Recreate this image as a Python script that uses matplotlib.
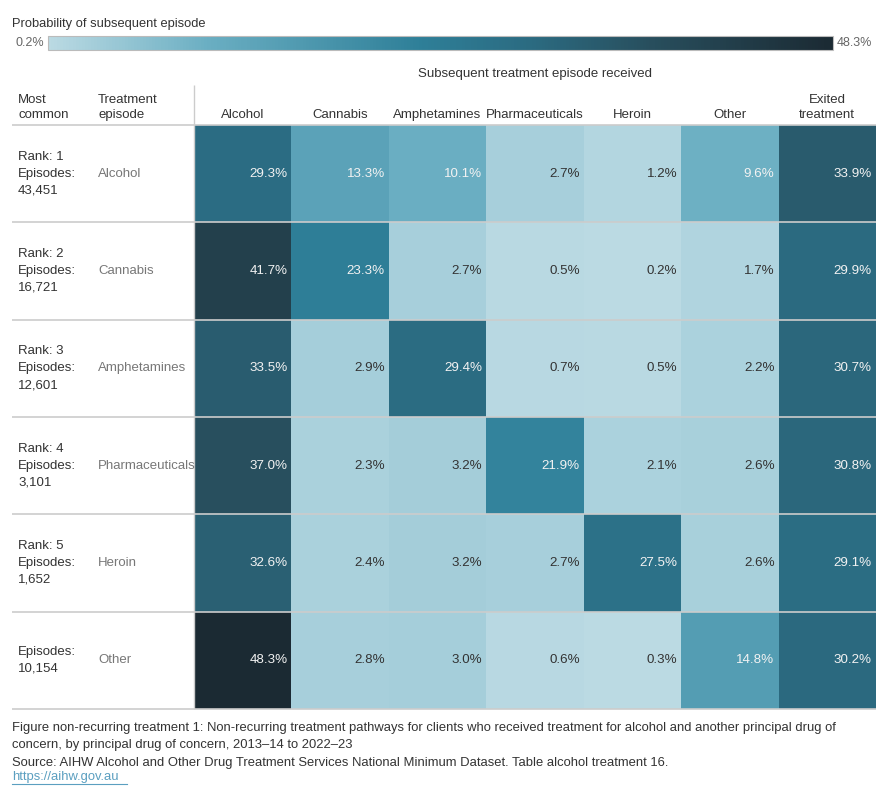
import numpy as np
import matplotlib
matplotlib.use("Agg")
from matplotlib import pyplot as plt
from matplotlib.colors import LinearSegmentedColormap, Normalize
from matplotlib.colorbar import ColorbarBase
from matplotlib.lines import Line2D

plt.rcParams['font.family'] = ['Liberation Sans', 'DejaVu Sans']

# data
episodes = ['Alcohol', 'Cannabis', 'Amphetamines', 'Pharmaceuticals', 'Heroin', 'Other']
rank_labels = ['Rank: 1\nEpisodes:\n43,451',
               'Rank: 2\nEpisodes:\n16,721',
               'Rank: 3\nEpisodes:\n12,601',
               'Rank: 4\nEpisodes:\n3,101',
               'Rank: 5\nEpisodes:\n1,652',
               'Episodes:\n10,154']
received = ['Alcohol', 'Cannabis', 'Amphetamines', 'Pharmaceuticals', 'Heroin', 'Other', 'Exited\ntreatment']
alcohol_row = [29.3, 13.3, 10.1, 2.7, 1.2, 9.6, 33.9]
cannabis_row = [41.7, 23.3, 2.7, 0.5, 0.2, 1.7, 29.9]
amphet_row = [33.5, 2.9, 29.4, 0.7, 0.5, 2.2, 30.7]
pharma_row = [37.0, 2.3, 3.2, 21.9, 2.1, 2.6, 30.8]
heroin_row = [32.6, 2.4, 3.2, 2.7, 27.5, 2.6, 29.1]
other_row = [48.3, 2.8, 3.0, 0.6, 0.3, 14.8, 30.2]
values = np.array([alcohol_row, cannabis_row, amphet_row, pharma_row, heroin_row, other_row])
vmin, vmax = 0.2, 48.3

W, H = 890, 800
stops = [(0.2, '#bbdae3'), (10, '#6aaec2'), (23, '#2e7f98'), (30, '#2b6a80'),
         (37, '#284f5e'), (48.3, '#1b2a33')]
cmap = LinearSegmentedColormap.from_list(
    'teal', [((v - vmin) / (vmax - vmin), c) for v, c in stops])
norm = Normalize(vmin, vmax)

fig = plt.figure(figsize=(W / 100, H / 100), dpi=100)

def px(x0, y0, x1, y1):
    return [x0 / W, 1 - y1 / H, (x1 - x0) / W, (y1 - y0) / H]

# heatmap
ax = fig.add_axes(px(194, 125, 876, 709))
nr, nc = values.shape
ax.pcolormesh(np.arange(nc + 1), np.arange(nr + 1), values, cmap=cmap, norm=norm)
ax.set_xlim(0, nc)
ax.set_ylim(nr, 0)
ax.axis('off')

colw = (876 - 194) / nc
def dx(p):
    return (p - 194) / colw

for i in range(nr):
    for j in range(nc):
        v = values[i, j]
        col = '#f2f2f2' if v > 5 else '#333333'
        ax.text(j + 1 - 4 / colw, i + 0.5, '%.1f%%' % v, ha='right', va='center',
                fontsize=9.6, color=col)
    ax.text(dx(18), i + 0.5, rank_labels[i], ha='left', va='center', fontsize=9.5,
            color='#333333', linespacing=1.55)
    ax.text(dx(98), i + 0.5, episodes[i], ha='left', va='center', fontsize=9.5,
            color='#777777')

ax.hlines(np.arange(nr + 1), dx(12), nc, color='#cccccc', lw=1.2, clip_on=False)
ax.vlines(0, -40 / 97.3, nr, color='#cccccc', lw=1, clip_on=False)

for j, name in enumerate(received):
    ax.text(j + 0.5, -0.04, name, ha='center', va='bottom', fontsize=9.5,
            color='#333333', linespacing=1.35)
ax.text(dx(18), -0.04, 'Most\ncommon', ha='left', va='bottom', fontsize=9.5,
        color='#333333', linespacing=1.35)
ax.text(dx(98), -0.04, 'Treatment\nepisode', ha='left', va='bottom', fontsize=9.5,
        color='#333333', linespacing=1.35)
ax.text(nc / 2, -0.52, 'Subsequent treatment episode received', ha='center',
        va='center', fontsize=9.5, color='#333333')

# legend
fig.text(12 / W, 1 - 24 / H, 'Probability of subsequent episode', ha='left',
         va='center', fontsize=9.3, color='#333333')
cax = fig.add_axes(px(48, 36, 833, 50))
cb = ColorbarBase(cax, cmap=cmap, norm=norm, orientation='horizontal')
cb.set_ticks([])
cb.outline.set_edgecolor('#bbbbbb')
cb.outline.set_linewidth(0.8)
fig.text(44 / W, 1 - 43 / H, '%.1f%%' % vmin, ha='right', va='center',
         fontsize=9, color='#666666')
fig.text(837 / W, 1 - 43 / H, '%.1f%%' % vmax, ha='left', va='center',
         fontsize=9, color='#666666')

# caption
cap = ('Figure non-recurring treatment 1: Non-recurring treatment pathways for clients who received '
       'treatment for alcohol and another principal drug of\nconcern, by principal drug of concern, '
       '2013\u201314 to 2022\u201323\n'
       'Source: AIHW Alcohol and Other Drug Treatment Services National Minimum Dataset. '
       'Table alcohol treatment 16.')
fig.text(12 / W, 1 - 722 / H, cap, ha='left', va='top', fontsize=9.4,
         color='#333333', linespacing=1.6)
fig.text(12 / W, 1 - 777 / H, 'https://aihw.gov.au', ha='left', va='center',
         fontsize=9.4, color='#5b9fc0')
fig.add_artist(Line2D([12 / W, 127 / W], [1 - 784 / H, 1 - 784 / H],
                      color='#5b9fc0', lw=0.8))

fig.savefig('out.png', dpi=100)
